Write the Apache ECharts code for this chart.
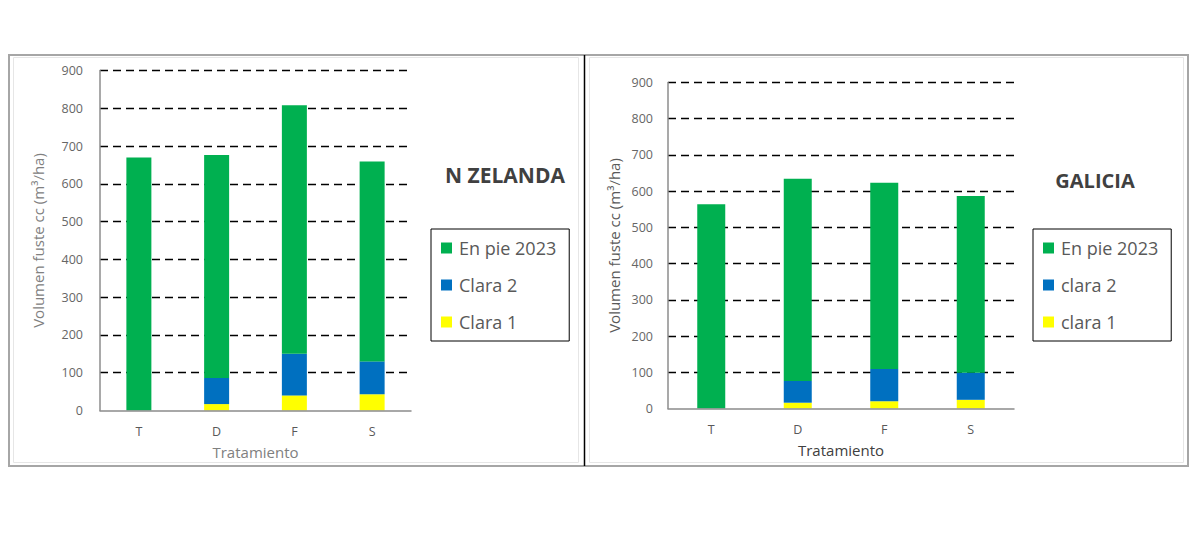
<!DOCTYPE html>
<html>
<head>
<meta charset="utf-8">
<script src="https://cdn.jsdelivr.net/npm/echarts@6/dist/echarts.min.js"></script>
<style>
html,body{margin:0;padding:0;background:#fff;}
#c{width:1200px;height:535px;}
</style>
</head>
<body>
<div id="c"></div>
<script>
// ---- data ----
var categories = ['T', 'D', 'F', 'S'];
var yTicks = [0, 100, 200, 300, 400, 500, 600, 700, 800, 900];

// N ZELANDA
var nzClara1 = [0, 17, 40, 43];
var nzClara2 = [0, 69, 110, 87];
var nzEnPie  = [670, 590, 658, 529];

// GALICIA
var gaClara1 = [0, 16, 20, 24];
var gaClara2 = [0, 60, 89, 75];
var gaEnPie  = [564, 558, 514, 488];

var nzNames = ['Clara 1', 'Clara 2', 'En pie 2023'];
var gaNames = ['clara 1', 'clara 2', 'En pie 2023'];
var titles = ['N ZELANDA', 'GALICIA'];

var GREEN = '#00B050', BLUE = '#0070C0', YELLOW = '#FFFF00';
var FONT = '"Open Sans", "Noto Sans", sans-serif';

var chart = echarts.init(document.getElementById('c'), null, {renderer: 'svg'});

function xAx(idx, nameColor) {
  return {
    type: 'category', gridIndex: idx, data: categories, z: 5,
    name: 'Tratamiento', nameLocation: 'middle', nameGap: 34,
    nameTextStyle: {fontFamily: FONT, fontSize: 15, color: nameColor},
    axisLine: {lineStyle: {color: '#8c8c8c', width: 1.5}},
    axisTick: {show: false},
    axisLabel: {fontFamily: FONT, fontSize: 12.5, color: '#595959', margin: 14},
    splitLine: {show: false}
  };
}
function yAx(idx, nameColor, nameGap, labelMargin) {
  return {
    type: 'value', gridIndex: idx, min: 0, max: 900, interval: 100,
    name: 'Volumen fuste cc (m³/ha)', nameLocation: 'middle', nameGap: nameGap,
    nameTextStyle: {fontFamily: FONT, fontSize: 15, color: nameColor},
    axisLine: {show: true, lineStyle: {color: '#8c8c8c', width: 1.5}},
    axisTick: {show: false},
    axisLabel: {fontFamily: FONT, fontSize: 12.5, color: '#666666', margin: labelMargin,
      formatter: function (v) { return yTicks.indexOf(v) >= 0 ? String(v) : ''; }},
    splitLine: {show: true, showMinLine: false, lineStyle: {color: '#000', width: 1.3, type: [8, 5]}}
  };
}
function bar(name, data, color, idx, bw) {
  return {
    name: name, type: 'bar', stack: 's' + idx, data: data,
    xAxisIndex: idx, yAxisIndex: idx, barWidth: bw,
    itemStyle: {color: color}, z: 3
  };
}
function legend(names, left) {
  return {
    orient: 'vertical', left: left, top: 229,
    data: [names[2], names[1], names[0]],
    icon: 'rect', itemWidth: 11, itemHeight: 11, itemGap: 17,
    borderColor: '#000', borderWidth: 1, padding: [9, 13, 9, 10],
    textStyle: {fontFamily: FONT, fontSize: 18, color: '#595959', lineHeight: 20, padding: [0, 0, 0, 2]},
    selectedMode: false
  };
}

var option = {
  backgroundColor: '#fff',
  animation: false,
  grid: [
    {left: 100, right: 789, top: 70.5, bottom: 124.5},
    {left: 668, right: 186, top: 82.5, bottom: 126.5}
  ],
  xAxis: [xAx(0, '#808080'), xAx(1, '#404040')],
  yAxis: [yAx(0, '#808080', 55, 17), yAx(1, '#595959', 47, 15)],
  legend: [legend(nzNames, 431), legend(gaNames, 1033)],
  title: [
    {text: titles[0], left: 500, top: 159, textAlign: 'center',
     textStyle: {fontFamily: FONT, fontSize: 21, fontWeight: 'bold', color: '#404040'}},
    {text: titles[1], left: 1090, top: 165, textAlign: 'center',
     textStyle: {fontFamily: FONT, fontSize: 20, fontWeight: 'bold', color: '#404040'}}
  ],
  series: [
    bar(nzNames[0], nzClara1, YELLOW, 0, 25),
    bar(nzNames[1], nzClara2, BLUE, 0, 25),
    bar(nzNames[2], nzEnPie, GREEN, 0, 25),
    bar(gaNames[0], gaClara1, YELLOW, 1, 28),
    bar(gaNames[1], gaClara2, BLUE, 1, 28),
    bar(gaNames[2], gaEnPie, GREEN, 1, 28)
  ],
  graphic: [
    {type: 'rect', shape: {x: 9, y: 55, width: 1179, height: 411}, style: {fill: 'none', stroke: '#a6a6a6', lineWidth: 2}, silent: true},
    {type: 'rect', shape: {x: 13.5, y: 57.5, width: 565, height: 405}, style: {fill: 'none', stroke: '#e6e6e6', lineWidth: 1}, silent: true},
    {type: 'rect', shape: {x: 589.5, y: 57.5, width: 594, height: 405}, style: {fill: 'none', stroke: '#e6e6e6', lineWidth: 1}, silent: true},
    {type: 'line', shape: {x1: 584.5, y1: 55, x2: 584.5, y2: 466}, style: {stroke: '#000', lineWidth: 1.5}, silent: true}
  ]
};
chart.setOption(option);
</script>
</body>
</html>
